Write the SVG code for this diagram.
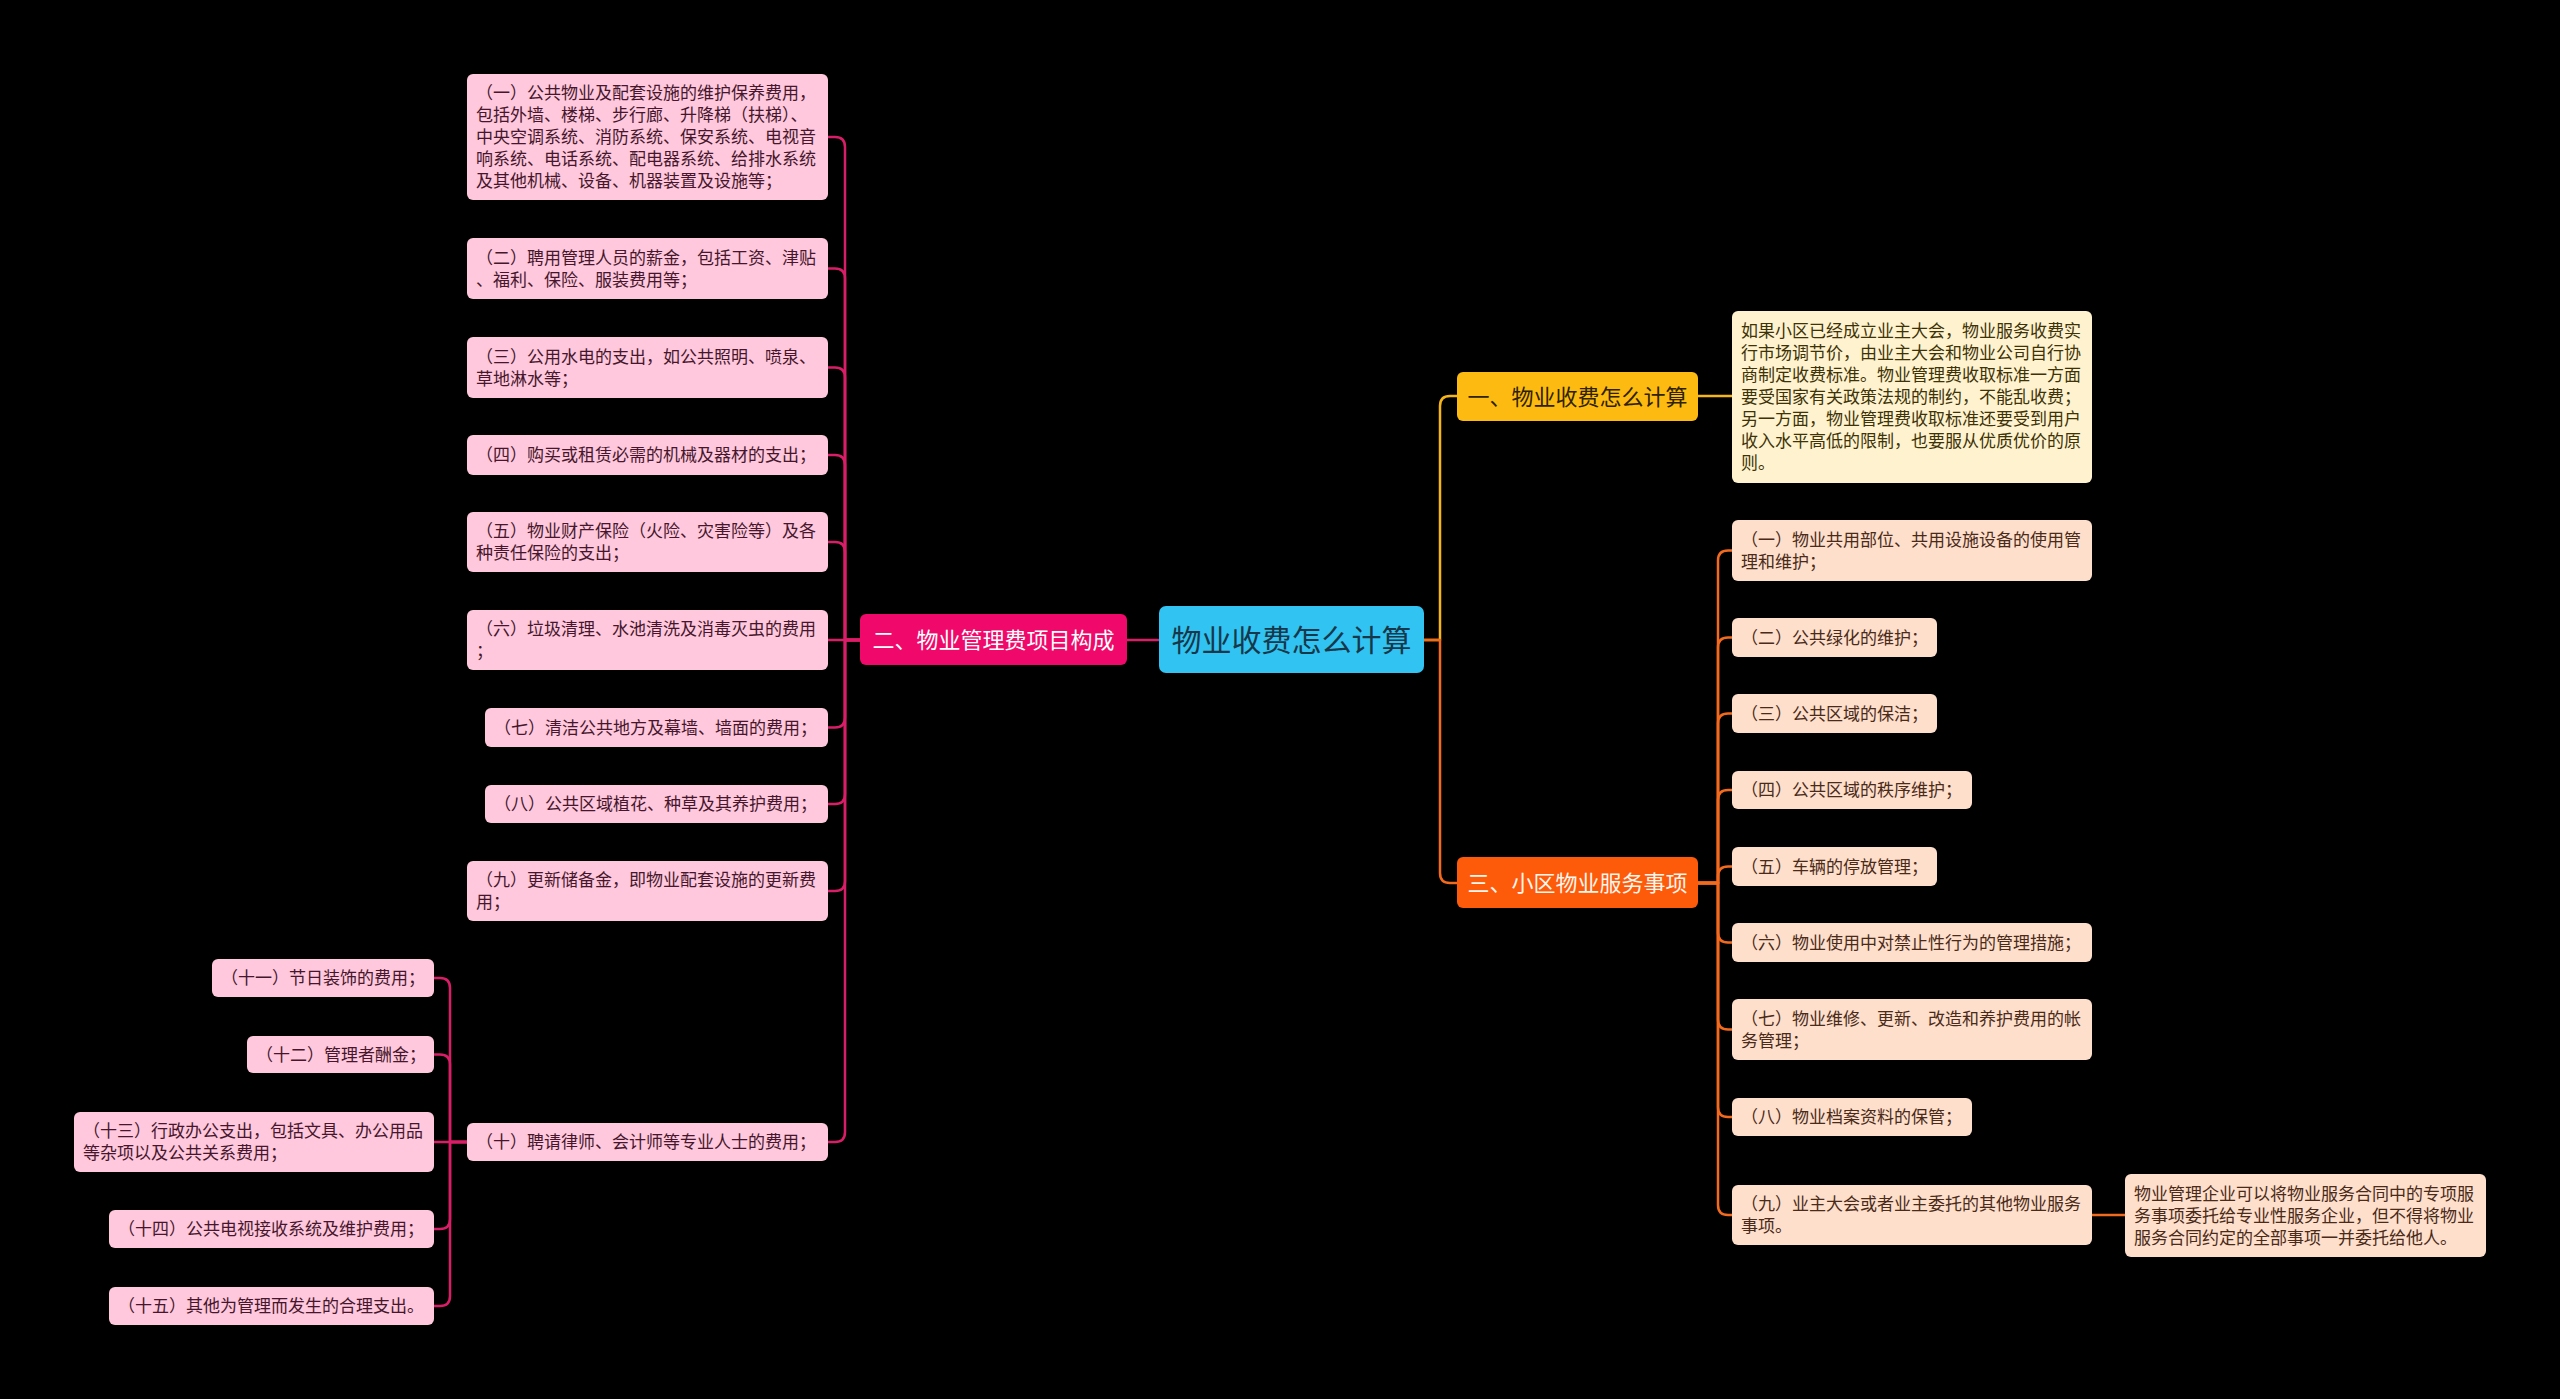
<svg xmlns="http://www.w3.org/2000/svg" width="2560" height="1399" viewBox="0 0 2560 1399">
<style>
text{font-family:"Noto Sans CJK SC","Noto Sans",sans-serif;}
.c{fill:none;stroke-width:2.5;stroke-linecap:round;stroke-linejoin:round}
.cp{stroke:#d91e68}
.cy{stroke:#f4b41a}
.co{stroke:#f26a1e}
.pk rect{fill:#ffc8dd}
.pk text{fill:#45162c;font-size:17px}
.pe rect{fill:#fddfcc}
.pe text{fill:#4a2a18;font-size:17px}
.yl rect{fill:#fff3cf}
.yl text{fill:#3d3208;font-size:17px}
</style>
<rect width="2560" height="1399" fill="#000"/>
<g id="connectors">
<path class="c cp" d="M1159 640 H1127"/>
<path class="c cp" d="M860 640 H845 V147 Q845 137 835 137 H828"/>
<path class="c cp" d="M860 640 H845 V278.5 Q845 268.5 835 268.5 H828"/>
<path class="c cp" d="M860 640 H845 V377.5 Q845 367.5 835 367.5 H828"/>
<path class="c cp" d="M860 640 H845 V465 Q845 455 835 455 H828"/>
<path class="c cp" d="M860 640 H845 V552 Q845 542 835 542 H828"/>
<path class="c cp" d="M860 640 H828"/>
<path class="c cp" d="M860 640 H845 V717.5 Q845 727.5 835 727.5 H828"/>
<path class="c cp" d="M860 640 H845 V794 Q845 804 835 804 H828"/>
<path class="c cp" d="M860 640 H845 V881 Q845 891 835 891 H828"/>
<path class="c cp" d="M860 640 H845 V1132 Q845 1142 835 1142 H828"/>
<path class="c cp" d="M467 1142 H450 V988 Q450 978 440 978 H434"/>
<path class="c cp" d="M467 1142 H450 V1064.5 Q450 1054.5 440 1054.5 H434"/>
<path class="c cp" d="M467 1142 H434"/>
<path class="c cp" d="M467 1142 H450 V1219 Q450 1229 440 1229 H434"/>
<path class="c cp" d="M467 1142 H450 V1296 Q450 1306 440 1306 H434"/>
<path class="c cy" d="M1424 640 H1440 V406 Q1440 396 1450 396 H1457"/>
<path class="c co" d="M1424 640 H1440 V873 Q1440 883 1450 883 H1457"/>
<path class="c cy" d="M1698 396 H1732"/>
<path class="c co" d="M1698 883 H1718 V560.5 Q1718 550.5 1728 550.5 H1732"/>
<path class="c co" d="M1698 883 H1718 V647.5 Q1718 637.5 1728 637.5 H1732"/>
<path class="c co" d="M1698 883 H1718 V723.5 Q1718 713.5 1728 713.5 H1732"/>
<path class="c co" d="M1698 883 H1718 V800 Q1718 790 1728 790 H1732"/>
<path class="c co" d="M1698 883 H1718 V876.5 Q1718 866.5 1728 866.5 H1732"/>
<path class="c co" d="M1698 883 H1718 V932.5 Q1718 942.5 1728 942.5 H1732"/>
<path class="c co" d="M1698 883 H1718 V1019.5 Q1718 1029.5 1728 1029.5 H1732"/>
<path class="c co" d="M1698 883 H1718 V1107 Q1718 1117 1728 1117 H1732"/>
<path class="c co" d="M1698 883 H1718 V1205 Q1718 1215 1728 1215 H1732"/>
<path class="c co" d="M2092 1215 H2125"/>
</g>
<g id="root">
<rect x="1159" y="606" width="265" height="67" rx="7" fill="#31c3f1"/>
<text x="1291.5" y="650.5" font-size="30" fill="#17384a" text-anchor="middle">物业收费怎么计算</text>
</g>
<g id="b2">
<rect x="860" y="614" width="267" height="51" rx="6" fill="#f0086a"/>
<text x="993.5" y="647.5" font-size="22" fill="#ffffff" text-anchor="middle">二、物业管理费项目构成</text>
</g>
<g id="b1">
<rect x="1457" y="372" width="241" height="49" rx="6" fill="#fdbb12"/>
<text x="1577.5" y="404.5" font-size="22" fill="#2e2200" text-anchor="middle">一、物业收费怎么计算</text>
</g>
<g id="b3">
<rect x="1457" y="857" width="241" height="51" rx="6" fill="#fd5a0a"/>
<text x="1577.5" y="890.5" font-size="22" fill="#fff6ee" text-anchor="middle">三、小区物业服务事项</text>
</g>
<g id="l1" class="pk"><rect x="467" y="74" width="361" height="126" rx="6"/>
<text x="476" y="99">（一）公共物业及配套设施的维护保养费用，</text>
<text x="476" y="121">包括外墙、楼梯、步行廊、升降梯（扶梯）、</text>
<text x="476" y="143">中央空调系统、消防系统、保安系统、电视音</text>
<text x="476" y="165">响系统、电话系统、配电器系统、给排水系统</text>
<text x="476" y="187">及其他机械、设备、机器装置及设施等；</text></g>
<g id="l2" class="pk"><rect x="467" y="238" width="361" height="61" rx="6"/>
<text x="476" y="263.5">（二）聘用管理人员的薪金，包括工资、津贴</text>
<text x="476" y="285.5">、福利、保险、服装费用等；</text></g>
<g id="l3" class="pk"><rect x="467" y="337" width="361" height="61" rx="6"/>
<text x="476" y="362.5">（三）公用水电的支出，如公共照明、喷泉、</text>
<text x="476" y="384.5">草地淋水等；</text></g>
<g id="l4" class="pk"><rect x="467" y="435" width="361" height="40" rx="6"/>
<text x="476" y="461">（四）购买或租赁必需的机械及器材的支出；</text></g>
<g id="l5" class="pk"><rect x="467" y="512" width="361" height="60" rx="6"/>
<text x="476" y="537">（五）物业财产保险（火险、灾害险等）及各</text>
<text x="476" y="559">种责任保险的支出；</text></g>
<g id="l6" class="pk"><rect x="467" y="610" width="361" height="60" rx="6"/>
<text x="476" y="635">（六）垃圾清理、水池清洗及消毒灭虫的费用</text>
<text x="476" y="657">；</text></g>
<g id="l7" class="pk"><rect x="485" y="708" width="343" height="39" rx="6"/>
<text x="494" y="733.5">（七）清洁公共地方及幕墙、墙面的费用；</text></g>
<g id="l8" class="pk"><rect x="485" y="785" width="343" height="38" rx="6"/>
<text x="494" y="810">（八）公共区域植花、种草及其养护费用；</text></g>
<g id="l9" class="pk"><rect x="467" y="861" width="361" height="60" rx="6"/>
<text x="476" y="886">（九）更新储备金，即物业配套设施的更新费</text>
<text x="476" y="908">用；</text></g>
<g id="l10" class="pk"><rect x="467" y="1123" width="361" height="38" rx="6"/>
<text x="476" y="1148">（十）聘请律师、会计师等专业人士的费用；</text></g>
<g id="l11" class="pk"><rect x="212" y="959" width="222" height="38" rx="6"/>
<text x="221" y="984">（十一）节日装饰的费用；</text></g>
<g id="l12" class="pk"><rect x="247" y="1036" width="187" height="37" rx="6"/>
<text x="256" y="1060.5">（十二）管理者酬金；</text></g>
<g id="l13" class="pk"><rect x="74" y="1112" width="360" height="60" rx="6"/>
<text x="83" y="1137">（十三）行政办公支出，包括文具、办公用品</text>
<text x="83" y="1159">等杂项以及公共关系费用；</text></g>
<g id="l14" class="pk"><rect x="109" y="1210" width="325" height="38" rx="6"/>
<text x="118" y="1235">（十四）公共电视接收系统及维护费用；</text></g>
<g id="l15" class="pk"><rect x="109" y="1287" width="325" height="38" rx="6"/>
<text x="118" y="1312">（十五）其他为管理而发生的合理支出。</text></g>
<g id="n1" class="yl"><rect x="1732" y="311" width="360" height="172" rx="6"/>
<text x="1741" y="337">如果小区已经成立业主大会，物业服务收费实</text>
<text x="1741" y="359">行市场调节价，由业主大会和物业公司自行协</text>
<text x="1741" y="381">商制定收费标准。物业管理费收取标准一方面</text>
<text x="1741" y="403">要受国家有关政策法规的制约，不能乱收费；</text>
<text x="1741" y="425">另一方面，物业管理费收取标准还要受到用户</text>
<text x="1741" y="447">收入水平高低的限制，也要服从优质优价的原</text>
<text x="1741" y="469">则。</text></g>
<g id="r1" class="pe"><rect x="1732" y="520" width="360" height="61" rx="6"/>
<text x="1741" y="545.5">（一）物业共用部位、共用设施设备的使用管</text>
<text x="1741" y="567.5">理和维护；</text></g>
<g id="r2" class="pe"><rect x="1732" y="618" width="205" height="39" rx="6"/>
<text x="1741" y="643.5">（二）公共绿化的维护；</text></g>
<g id="r3" class="pe"><rect x="1732" y="694" width="205" height="39" rx="6"/>
<text x="1741" y="719.5">（三）公共区域的保洁；</text></g>
<g id="r4" class="pe"><rect x="1732" y="771" width="240" height="38" rx="6"/>
<text x="1741" y="796">（四）公共区域的秩序维护；</text></g>
<g id="r5" class="pe"><rect x="1732" y="847" width="205" height="39" rx="6"/>
<text x="1741" y="872.5">（五）车辆的停放管理；</text></g>
<g id="r6" class="pe"><rect x="1732" y="923" width="360" height="39" rx="6"/>
<text x="1741" y="948.5">（六）物业使用中对禁止性行为的管理措施；</text></g>
<g id="r7" class="pe"><rect x="1732" y="999" width="360" height="61" rx="6"/>
<text x="1741" y="1024.5">（七）物业维修、更新、改造和养护费用的帐</text>
<text x="1741" y="1046.5">务管理；</text></g>
<g id="r8" class="pe"><rect x="1732" y="1098" width="240" height="38" rx="6"/>
<text x="1741" y="1123">（八）物业档案资料的保管；</text></g>
<g id="r9" class="pe"><rect x="1732" y="1185" width="360" height="60" rx="6"/>
<text x="1741" y="1210">（九）业主大会或者业主委托的其他物业服务</text>
<text x="1741" y="1232">事项。</text></g>
<g id="n9" class="pe"><rect x="2125" y="1174" width="361" height="83" rx="6"/>
<text x="2134" y="1199.5">物业管理企业可以将物业服务合同中的专项服</text>
<text x="2134" y="1221.5">务事项委托给专业性服务企业，但不得将物业</text>
<text x="2134" y="1243.5">服务合同约定的全部事项一并委托给他人。</text></g>
</svg>
